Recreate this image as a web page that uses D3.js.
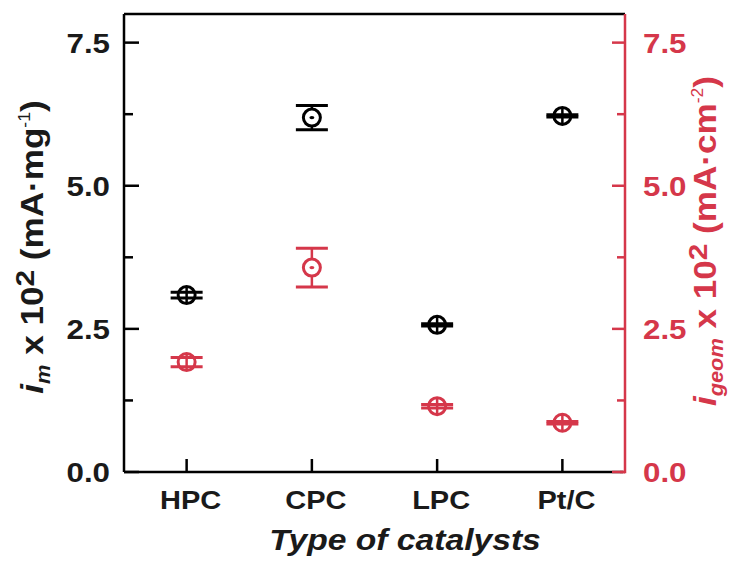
<!DOCTYPE html>
<html>
<head>
<meta charset="utf-8">
<script src="https://cdn.jsdelivr.net/npm/d3@7"></script>
<style>
  html, body { margin: 0; padding: 0; background: #fff; }
  svg { display: block; font-family: "Liberation Sans", Arial, sans-serif; }
</style>
</head>
<body>
<svg id="chart" width="733" height="561"></svg>
<script>
// Catalysts on the x axis
const catalysts = ["HPC", "CPC", "LPC", "Pt/C"];
// Mass activity i_m x 10^2 (mA·mg^-1), left axis
const massActivity = [3.09, 6.19, 2.57, 6.22];
const massError = [0.05, 0.21, 0.02, 0.02];
// Geometric activity i_geom x 10^2 (mA·cm^-2), right axis
const geomActivity = [1.92, 3.57, 1.15, 0.86];
const geomError = [0.08, 0.34, 0.03, 0.02];
// Axis ticks
const majorTicks = [0, 2.5, 5.0, 7.5];
const minorTicks = [1.25, 3.75, 6.25];

const BLACK = "#000";
const INK = "#1a1a1a";
const RED = "#d5374a";
const WIDEN = 1.16;      // horizontal glyph stretch
const TITLE_LONG = 1.3;  // stretch along the reading direction of the side titles

const svg = d3.select("#chart");
const plotL = 124, plotR = 625, plotT = 14, plotB = 472;

const x = d3.scalePoint().domain(catalysts).range([plotL, plotR]).padding(0.5);
const yL = d3.scaleLinear().domain([0, 8]).range([plotB, plotT]);
const yR = d3.scaleLinear().domain([0, 8]).range([plotB, plotT]);

function wideText(parent, px, py, anchor, size, color) {
  return parent.append("text")
    .attr("transform", `translate(${px},${py}) scale(${WIDEN},1)`)
    .attr("text-anchor", anchor).attr("font-size", size).attr("font-weight", "bold")
    .attr("fill", color);
}

// Frame: top and bottom in black
svg.append("line").attr("x1", plotL).attr("x2", plotR).attr("y1", plotT).attr("y2", plotT)
  .attr("stroke", BLACK).attr("stroke-width", 2.5);
svg.append("line").attr("x1", plotL).attr("x2", plotR - 2).attr("y1", plotB).attr("y2", plotB)
  .attr("stroke", BLACK).attr("stroke-width", 2.5);

// Left axis
const leftAxis = svg.append("g");
leftAxis.append("line").attr("x1", plotL).attr("x2", plotL).attr("y1", plotT).attr("y2", plotB)
  .attr("stroke", BLACK).attr("stroke-width", 2.5);
leftAxis.selectAll(".maj").data(majorTicks).join("line")
  .attr("x1", plotL).attr("x2", plotL + 15)
  .attr("y1", d => yL(d)).attr("y2", d => yL(d))
  .attr("stroke", BLACK).attr("stroke-width", 2.5);
leftAxis.selectAll(".min").data(minorTicks).join("line")
  .attr("x1", plotL).attr("x2", plotL + 9)
  .attr("y1", d => yL(d)).attr("y2", d => yL(d))
  .attr("stroke", BLACK).attr("stroke-width", 2.5);
majorTicks.forEach(d => {
  wideText(leftAxis, 110, yL(d) + 10, "end", 27, INK).text(d3.format(".1f")(d));
});

// Right axis
const rightAxis = svg.append("g");
rightAxis.append("line").attr("x1", plotR).attr("x2", plotR).attr("y1", plotT).attr("y2", plotB + 1.2)
  .attr("stroke", RED).attr("stroke-width", 2.5);
rightAxis.append("line").attr("x1", plotR - 5).attr("x2", plotR).attr("y1", plotB).attr("y2", plotB)
  .attr("stroke", RED).attr("stroke-width", 2.5);
rightAxis.selectAll(".maj").data(majorTicks).join("line")
  .attr("x1", plotR - 13).attr("x2", plotR)
  .attr("y1", d => yR(d)).attr("y2", d => yR(d))
  .attr("stroke", RED).attr("stroke-width", 2.5);
rightAxis.selectAll(".min").data(minorTicks).join("line")
  .attr("x1", plotR - 8).attr("x2", plotR)
  .attr("y1", d => yR(d)).attr("y2", d => yR(d))
  .attr("stroke", RED).attr("stroke-width", 2.5);
majorTicks.forEach(d => {
  wideText(rightAxis, 643, yR(d) + 10, "start", 27, RED).text(d3.format(".1f")(d));
});

// Bottom axis ticks and labels
svg.selectAll(".xt").data(catalysts).join("line")
  .attr("x1", d => x(d)).attr("x2", d => x(d))
  .attr("y1", plotB).attr("y2", plotB - 13)
  .attr("stroke", BLACK).attr("stroke-width", 2.5);
catalysts.forEach(c => {
  wideText(svg, x(c) + 4, 509, "middle", 25, INK).text(c);
});

wideText(svg, 405, 550, "middle", 29, INK).attr("font-style", "italic").text("Type of catalysts");

// Axis titles, reading bottom to top
function axisTitle(cx, cy, size, color, sub, unit, unitSup) {
  const t = svg.append("text")
    .attr("transform", `translate(${cx},${cy}) rotate(-90) scale(${TITLE_LONG},${WIDEN})`)
    .attr("text-anchor", "middle").attr("font-size", size).attr("font-weight", "bold")
    .attr("fill", color);
  t.append("tspan").attr("font-style", "italic").text("i");
  t.append("tspan").attr("font-style", "italic").attr("font-size", size * 0.62).attr("dy", size * 0.22).text(sub);
  t.append("tspan").attr("dy", -size * 0.22).text(" x 10");
  t.append("tspan").attr("font-size", size * 0.85).attr("dy", -size * 0.3).text("2");
  t.append("tspan").attr("dy", size * 0.3).text(" (" + unit);
  t.append("tspan").attr("font-size", size * 0.5).attr("dy", -size * 0.4).attr("font-weight", "normal").text(unitSup);
  t.append("tspan").attr("dy", size * 0.4).text(")");
}
axisTitle(43, 247, 27, INK, "m", "mA·mg", "-1");
axisTitle(716, 241, 27, RED, "geom", "mA·cm", "-2");

// Data points with error bars
function drawSeries(vals, errs, y, color) {
  const g = svg.append("g");
  const pts = catalysts.map((c, i) => ({ c, v: vals[i], e: errs[i] }));
  const capW = 16;
  g.selectAll(".eb").data(pts).join("line")
    .attr("x1", d => x(d.c)).attr("x2", d => x(d.c))
    .attr("y1", d => y(d.v + d.e)).attr("y2", d => y(d.v - d.e))
    .attr("stroke", color).attr("stroke-width", 2.5);
  g.selectAll(".pt").data(pts).join("circle")
    .attr("cx", d => x(d.c)).attr("cy", d => y(d.v)).attr("r", 8.5)
    .attr("fill", "#fff").attr("stroke", color).attr("stroke-width", 3);
  g.selectAll(".vx").data(pts.filter(d => d.e < 0.1)).join("line")
    .attr("x1", d => x(d.c)).attr("x2", d => x(d.c))
    .attr("y1", d => y(d.v) - 8).attr("y2", d => y(d.v) + 8)
    .attr("stroke", color).attr("stroke-width", 2.5);
  g.selectAll(".capT").data(pts).join("line")
    .attr("x1", d => x(d.c) - capW).attr("x2", d => x(d.c) + capW)
    .attr("y1", d => y(d.v + d.e)).attr("y2", d => y(d.v + d.e))
    .attr("stroke", color).attr("stroke-width", 3);
  g.selectAll(".capB").data(pts).join("line")
    .attr("x1", d => x(d.c) - capW).attr("x2", d => x(d.c) + capW)
    .attr("y1", d => y(d.v - d.e)).attr("y2", d => y(d.v - d.e))
    .attr("stroke", color).attr("stroke-width", 3);
  g.selectAll(".dot").data(pts.filter(d => d.e >= 0.1)).join("ellipse")
    .attr("cx", d => x(d.c)).attr("cy", d => y(d.v)).attr("rx", 2.5).attr("ry", 1.6)
    .attr("fill", color);
}
drawSeries(massActivity, massError, yL, BLACK);
drawSeries(geomActivity, geomError, yR, RED);
</script>
</body>
</html>
